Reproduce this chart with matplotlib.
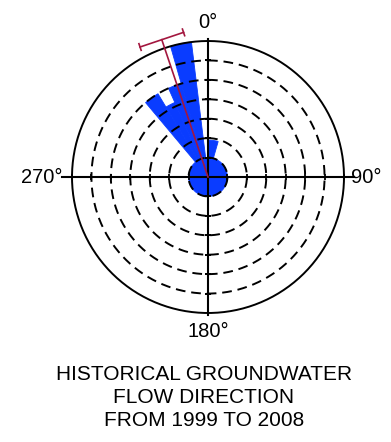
import numpy as np
import matplotlib
matplotlib.use('Agg')
import matplotlib.pyplot as plt

plt.rcParams['font.family'] = ['Liberation Sans', 'DejaVu Sans']
plt.rcParams['hatch.color'] = '#5f86ff'
plt.rcParams['hatch.linewidth'] = 0.4

# sectors (degrees clockwise from north, negative = west of north) and their length in ring units
sector_edges = [-40, -31, -24, -16, -7, 0, 16]
sector_len = [5.0, 4.2, 5.0, 7.0, 1.0, 1.9]
base_len = 1.0          # every direction has at least this
rings = [1, 2, 3, 4, 5, 6]
outer_ring = 7
mean_dir = -18.6        # mean flow direction, degrees
mean_len = 7.46
conf_half = 9.0         # half width of the bar at the end, degrees
conf_r = 7.55

axis_labels = ['0°', '90°', '180°', '270°']
title_lines = ['HISTORICAL GROUNDWATER', 'FLOW DIRECTION', 'FROM 1999 TO 2008']

def main():
    W, H = 391, 442
    fig = plt.figure(figsize=(W / 100, H / 100), dpi=100)
    cx, cy = 208, 177
    unit = 136 / outer_ring
    rmax = 8
    rad = rmax * unit
    ax = fig.add_axes([(cx - rad) / W, (H - cy - rad) / H, 2 * rad / W, 2 * rad / H],
                      projection='polar')
    ax.set_theta_zero_location('N')
    ax.set_theta_direction(-1)
    ax.set_ylim(0, rmax)
    ax.axis('off')

    blue = '#0a3cff'
    edges = np.deg2rad(sector_edges)
    widths = np.diff(edges)
    # solid fill first (edge in same colour hides the seams), then faint hatching on top
    ax.bar(0, base_len, width=2 * np.pi, bottom=0, color=blue, edgecolor=blue, lw=0.6, zorder=2)
    ax.bar(edges[:-1], sector_len, width=widths, align='edge', bottom=0, color=blue,
           edgecolor=blue, lw=0.6, zorder=2)
    ax.bar(0, base_len, width=2 * np.pi, bottom=0, fill=False, edgecolor='none',
           hatch='//', zorder=2.1)
    ax.bar(edges[:-1], sector_len, width=widths, align='edge', bottom=0, fill=False,
           edgecolor='none', hatch='//', zorder=2.1)

    th = np.linspace(0, 2 * np.pi, 400)
    for r in rings:
        ax.plot(th, np.full_like(th, r), color='black', lw=1.4, ls=(0, (5, 3)), zorder=3)
    ax.plot(th, np.full_like(th, outer_ring), color='black', lw=1.4, zorder=3)

    # cross axes
    ax.plot([0, np.pi], [7.1, 7.1], color='black', lw=1.5, zorder=4)
    ax.plot([np.pi / 2, 3 * np.pi / 2], [7.5, 7.5], color='black', lw=1.5, zorder=4)
    for a in [0, np.pi]:
        ax.plot(np.full(len(rings), a), rings, ls='none', marker='_', ms=5, mew=1.3,
                color='black', zorder=4)
    for a in [np.pi / 2, 3 * np.pi / 2]:
        ax.plot(np.full(len(rings) + 1, a), rings + [outer_ring], ls='none', marker='|',
                ms=5, mew=1.3, color='black', zorder=4)

    # mean direction with confidence bar
    red = '#a3173f'
    m = np.deg2rad(mean_dir)
    ax.plot([m, m], [0, mean_len], color=red, lw=1.2, zorder=5)
    a1, a2 = np.deg2rad(mean_dir - conf_half), np.deg2rad(mean_dir + conf_half)
    ax.plot([a1, a2], [conf_r, conf_r], color=red, lw=1.2, zorder=5)
    # end ticks
    for a in [a1, a2]:
        x, y = conf_r * np.sin(a), conf_r * np.cos(a)
        dx, dy = 0.18 * np.sin(m), 0.18 * np.cos(m)
        p = np.array([[x - dx, y - dy], [x + dx, y + dy]])
        ax.plot(np.arctan2(p[:, 0], p[:, 1]), np.hypot(p[:, 0], p[:, 1]), color=red,
                lw=1.2, zorder=5)

    fs = 14.5
    fig.text(cx / W, 1 - 28 / H, axis_labels[0], ha='center', va='baseline', fontsize=fs)
    fig.text(351 / W, 1 - 183 / H, axis_labels[1], ha='left', va='baseline', fontsize=fs)
    fig.text(cx / W, 1 - 337 / H, axis_labels[2], ha='center', va='baseline', fontsize=fs)
    fig.text(63 / W, 1 - 183 / H, axis_labels[3], ha='right', va='baseline', fontsize=fs)

    for line, yb in zip(title_lines, [380, 403, 426]):
        fig.text(204 / W, 1 - yb / H, line, ha='center', va='baseline', fontsize=15)

    fig.savefig('out.png', dpi=100)


if __name__ == "__main__": main()
